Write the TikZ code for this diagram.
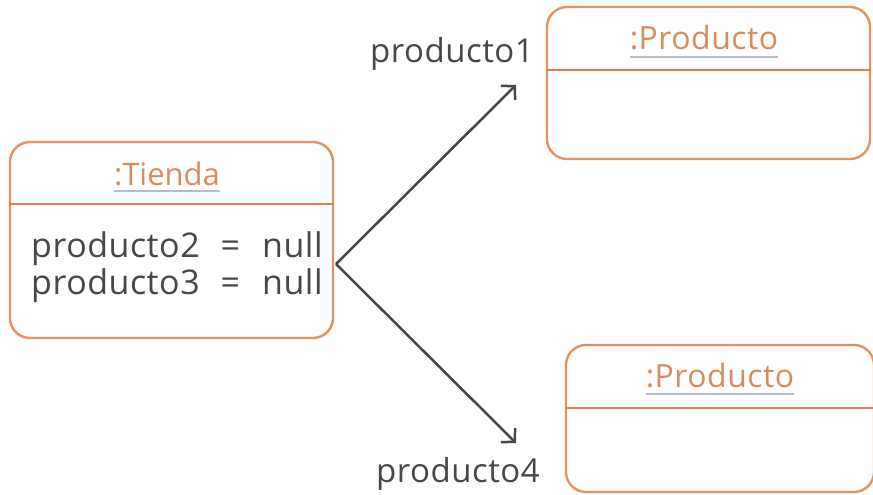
\documentclass[tikz,border=0pt]{standalone}
\usepackage{fontspec}
\setmainfont{Open Sans}
\newfontfamily\spacedfont[LetterSpace=1.5]{Open Sans}
\usetikzlibrary{arrows.meta}
\definecolor{boxorange}{HTML}{E2935F}
\definecolor{divorange}{HTML}{E27E4A}
\definecolor{titleorange}{HTML}{D98B5B}
\definecolor{txtgray}{HTML}{474747}
\definecolor{ulgray}{HTML}{B9BCC6}
\tikzset{
  objbox/.style={draw=boxorange, line width=2.4pt, rounded corners=20pt, rectangle, inner sep=0pt},
  divline/.style={draw=divorange, line width=2.4pt},
  titletxt/.style={text=titleorange, font=\fontsize{31}{31}\selectfont, inner sep=0pt, anchor=base},
  prodtitle/.style={titletxt, font=\spacedfont\fontsize{32}{32}\selectfont},
  bodytxt/.style={text=txtgray, font=\spacedfont\fontsize{34}{37}\selectfont, inner sep=0pt, anchor=base west},
  lbltxt/.style={text=txtgray, font=\spacedfont\fontsize{33}{33}\selectfont, inner sep=0pt, anchor=base west},
  ulline/.style={draw=ulgray, line width=1.3pt},
  arr/.style={draw=txtgray, line width=2.5pt, -{Straight Barb[length=9.5pt,width=20pt,line width=2.5pt]}}
}
\begin{document}
\begin{tikzpicture}[x=1pt,y=-1pt]
\useasboundingbox (0,0) rectangle (873,495);
% Tienda
\node[objbox, minimum width=323pt, minimum height=196pt] (tienda) at (171.5,240) {};
\draw[divline] (tienda.west |- 0,204) -- (tienda.east |- 0,204);
\node[titletxt] (tt) at (167,185) {:Tienda};
\draw[ulline] ([yshift=-6pt]tt.base west) -- ([yshift=-6pt]tt.base east);
\node[bodytxt] (l2) at (31,257) {producto2\hspace{21pt}=\hspace{22pt}null};
\node[bodytxt] (l3) at (31,294) {producto3\hspace{21pt}=\hspace{22pt}null};
% Producto top
\node[objbox, minimum width=323pt, minimum height=152pt] (p1) at (708.5,83) {};
\draw[divline] (p1.west |- 0,70) -- (p1.east |- 0,70);
\node[prodtitle] (pt1) at (704,50) {:Producto};
\draw[ulline] ([yshift=-7pt]pt1.base west) -- ([yshift=-7pt]pt1.base east);
% Producto bottom
\node[objbox, minimum width=308pt, minimum height=147pt] (p4) at (720,418.5) {};
\draw[divline] (p4.west |- 0,408) -- (p4.east |- 0,408);
\node[prodtitle] (pt4) at (720,387) {:Producto};
\draw[ulline] ([yshift=-7pt]pt4.base west) -- ([yshift=-7pt]pt4.base east);
% arrows
\coordinate (v) at (336,264);
\coordinate (t1) at (516,85);
\coordinate (t4) at (516,443);
\draw[arr, line join=miter] (v) -- (t1);
\draw[arr] (v) -- (t4);
\node[lbltxt] (n1) at (370,63) {producto1};
\node[lbltxt] (n4) at (376,482) {producto4};
\end{tikzpicture}
\end{document}
